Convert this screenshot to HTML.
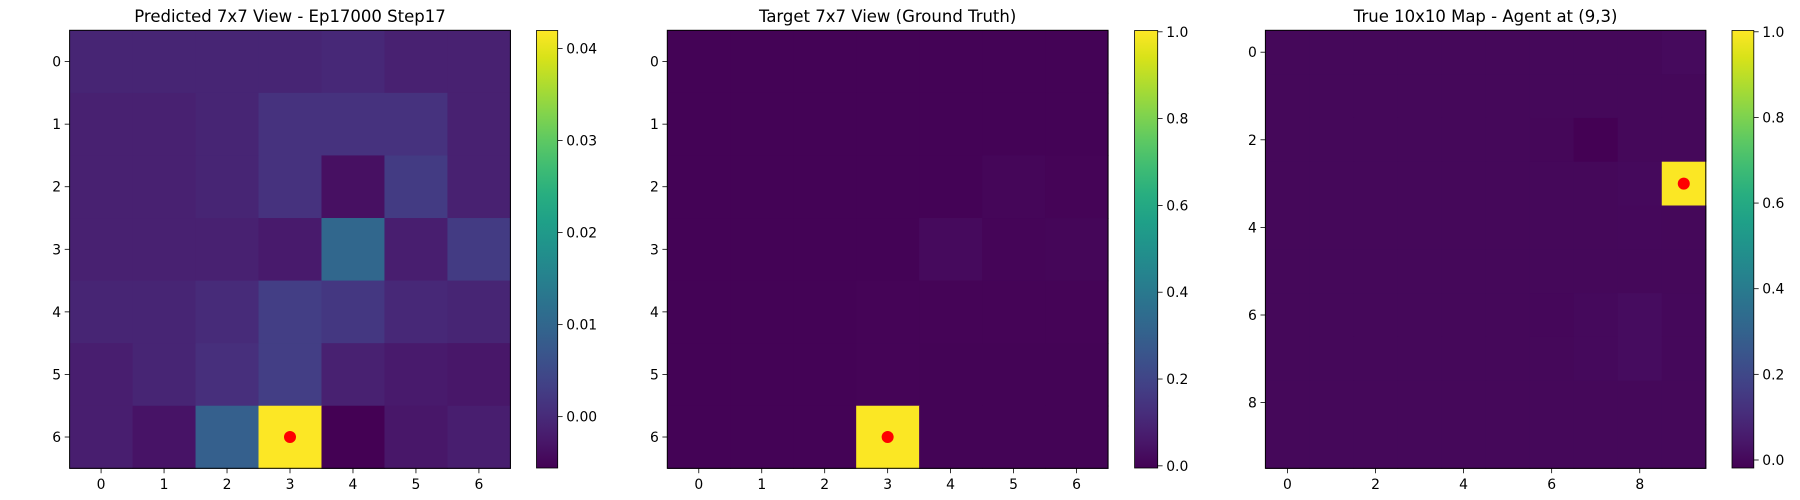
<!DOCTYPE html>
<html><head><meta charset="utf-8"><style>
html,body{margin:0;padding:0;background:#fff;width:1800px;height:500px;overflow:hidden}
svg text{font-family:"DejaVu Sans","Liberation Sans",sans-serif;fill:#000}
</style></head><body>
<svg id="fig" width="1800" height="500" xmlns="http://www.w3.org/2000/svg">
<defs>
<linearGradient id="vir" x1="0" y1="1" x2="0" y2="0">
<stop offset="0" stop-color="#440154"/><stop offset="0.0625" stop-color="#48186a"/><stop offset="0.125" stop-color="#472d7b"/><stop offset="0.1875" stop-color="#424086"/><stop offset="0.25" stop-color="#3b528b"/><stop offset="0.3125" stop-color="#33638d"/><stop offset="0.375" stop-color="#2c728e"/><stop offset="0.4375" stop-color="#26828e"/><stop offset="0.5" stop-color="#21918c"/><stop offset="0.5625" stop-color="#1fa088"/><stop offset="0.625" stop-color="#28ae80"/><stop offset="0.6875" stop-color="#3fbc73"/><stop offset="0.75" stop-color="#5ec962"/><stop offset="0.8125" stop-color="#84d44b"/><stop offset="0.875" stop-color="#addc30"/><stop offset="0.9375" stop-color="#d8e219"/><stop offset="1" stop-color="#fde725"/>
</linearGradient>
</defs>
</svg>
<script>
// ---- data ----
const predTitle = "Predicted 7x7 View - Ep17000 Step17";
const predValues = [
 [-0.0008,-0.0008,-0.0008,-0.0008,-0.0004,-0.0013,-0.0013],
 [-0.0013,-0.0013,-0.0008,0.0011,0.0011,0.0011,-0.0013],
 [-0.0013,-0.0013,-0.0008,0.0011,-0.0037,0.0025,-0.0013],
 [-0.0013,-0.0013,-0.0013,-0.0023,0.0101,-0.0018,0.0025],
 [-0.0008,-0.0008,0.0001,0.0030,0.0020,-0.0004,-0.0008],
 [-0.0018,-0.0008,0.0006,0.0030,-0.0013,-0.0023,-0.0027],
 [-0.0018,-0.0032,0.0087,0.0419,-0.0056,-0.0027,-0.0018]
];
const predRange = [-0.00558, 0.04196];
const predCbTicks = [0.00, 0.01, 0.02, 0.03, 0.04];
const predCbLabels = ["0.00","0.01","0.02","0.03","0.04"];
const predAgent = [3, 6];

const targetTitle = "Target 7x7 View (Ground Truth)";
const targetValues = [
 [0,0,0,0,0,0,0],
 [0,0,0,0,0,0,0],
 [0,0,0,0,0,0.008,0.004],
 [0,0,0,0,0.02,0.006,0.008],
 [0,0,0,0.003,0.004,0.004,0.004],
 [0,0,0,0.003,0.002,0.002,0.002],
 [0,0,0,1.0,0.002,0.002,0.002]
];
const targetRange = [-0.005, 1.003];
const targetCbTicks = [0.0,0.2,0.4,0.6,0.8,1.0];
const targetCbLabels = ["0.0","0.2","0.4","0.6","0.8","1.0"];
const targetAgent = [3, 6];

const trueTitle = "True 10x10 Map - Agent at (9,3)";
const trueValues = [
 [0,0,0,0,0,0,0,0,0,0.006],
 [0,0,0,0,0,0,0,0,0,0],
 [0,0,0,0,0,0,-0.003,-0.018,0,0],
 [0,0,0,0,0,0,0,0,0.004,1.0],
 [0,0,0,0,0,0,0,0,0.002,0],
 [0,0,0,0,0,0,0,0,0,0],
 [0,0,0,0,0,0,-0.002,0.004,0.012,0.002],
 [0,0,0,0,0,0,0,0.004,0.012,0.002],
 [0,0,0,0,0,0,0,0,0,0],
 [0,0,0,0,0,0,0,0,0,0]
];
const trueRange = [-0.0187, 1.003];
const trueCbTicks = [0.0,0.2,0.4,0.6,0.8,1.0];
const trueCbLabels = ["0.0","0.2","0.4","0.6","0.8","1.0"];
const trueXTicks = [0,2,4,6,8];
const trueAgent = [9, 3];

// ---- rendering ----
const NS = "http://www.w3.org/2000/svg";
const svg = document.getElementById('fig');
const VIR = ["#440154","#48186a","#472d7b","#424086","#3b528b","#33638d","#2c728e","#26828e","#21918c","#1fa088","#28ae80","#3fbc73","#5ec962","#84d44b","#addc30","#d8e219","#fde725"];
function hex(h){return [parseInt(h.substr(1,2),16),parseInt(h.substr(3,2),16),parseInt(h.substr(5,2),16)];}
function viridis(t){
  t=Math.max(0,Math.min(1,t));
  const p=t*(VIR.length-1), i=Math.min(Math.floor(p),VIR.length-2), f=p-i;
  const a=hex(VIR[i]), b=hex(VIR[i+1]);
  return 'rgb('+a.map((v,k)=>Math.round(v+(b[k]-v)*f)).join(',')+')';
}
function mk(tag, attrs, parent){
  const e=document.createElementNS(NS,tag);
  for(const k in attrs) e.setAttribute(k,attrs[k]);
  (parent||svg).appendChild(e); return e;
}
function panel(id, cfg){
  const g=mk('g',{});
  
  
  const n=cfg.values.length, L=cfg.left, R=cfg.right, T=30.3, B=468.3;
  const cw=(R-L)/n, ch=(B-T)/n;
  const xs=c=>L+(c+0.5)*cw, ys=r=>T+(r+0.5)*ch;
  const [vmin,vmax]=cfg.range;
  cfg.values.forEach((row,r)=>row.forEach((v,c)=>{
    const rc=mk('rect',{x:L+c*cw,y:T+r*ch,width:cw+0.6,height:ch+0.6,fill:viridis((v-vmin)/(vmax-vmin))},g);
    
    
  }));
  const fr=mk('rect',{x:L,y:T,width:R-L,height:B-T,fill:'none',stroke:'#000','stroke-width':1},g);
  
  
  const dot=mk('circle',{cx:xs(cfg.agent[0]),cy:ys(cfg.agent[1]),r:6,fill:'#ff0000'},g);
  
  
  const tt=mk('text',{x:(L+R)/2,y:22,'text-anchor':'middle','font-size':'16.5px'},g);
  tt.textContent=cfg.title;
  
  
  cfg.ticks.forEach(t=>{
    mk('line',{x1:xs(t),x2:xs(t),y1:B,y2:B+4.9,stroke:'#000','stroke-width':0.8},g);
    const tx=mk('text',{x:xs(t),y:B+20.5,'text-anchor':'middle','font-size':'13.9px'},g);
    tx.textContent=t;
    
    
    mk('line',{x1:L-4.9,x2:L,y1:ys(t),y2:ys(t),stroke:'#000','stroke-width':0.8},g);
    const ty=mk('text',{x:L-8.5,y:ys(t)+5,'text-anchor':'end','font-size':'13.9px'},g);
    ty.textContent=t;
    
    
  });
  // colorbar
  const cb=mk('rect',{x:cfg.cbL,y:30.5,width:cfg.cbR-cfg.cbL,height:437.5,fill:'url(#vir)',stroke:'#000','stroke-width':0.8},g);
  
  
  const cy=v=>468-(v-vmin)/(vmax-vmin)*437.5;
  cfg.cbTicks.forEach((v,i)=>{
    mk('line',{x1:cfg.cbR,x2:cfg.cbR+4.9,y1:cy(v),y2:cy(v),stroke:'#000','stroke-width':0.8},g);
    const tl=mk('text',{x:cfg.cbR+8.5,y:cy(v)+5,'font-size':'13.9px'},g);
    tl.textContent=cfg.cbLabels[i];
    
    
  });
}
panel('predicted',{values:predValues,range:predRange,left:69.6,right:510.4,cbL:536.5,cbR:557.7,title:predTitle,agent:predAgent,ticks:[0,1,2,3,4,5,6],cbTicks:predCbTicks,cbLabels:predCbLabels});
panel('target',{values:targetValues,range:targetRange,left:667.3,right:1108,cbL:1134.6,cbR:1157.7,title:targetTitle,agent:targetAgent,ticks:[0,1,2,3,4,5,6],cbTicks:targetCbTicks,cbLabels:targetCbLabels});
panel('true-map',{values:trueValues,range:trueRange,left:1265.4,right:1705.8,cbL:1732,cbR:1753.8,title:trueTitle,agent:trueAgent,ticks:trueXTicks,cbTicks:trueCbTicks,cbLabels:trueCbLabels});
</script>
</body></html>
